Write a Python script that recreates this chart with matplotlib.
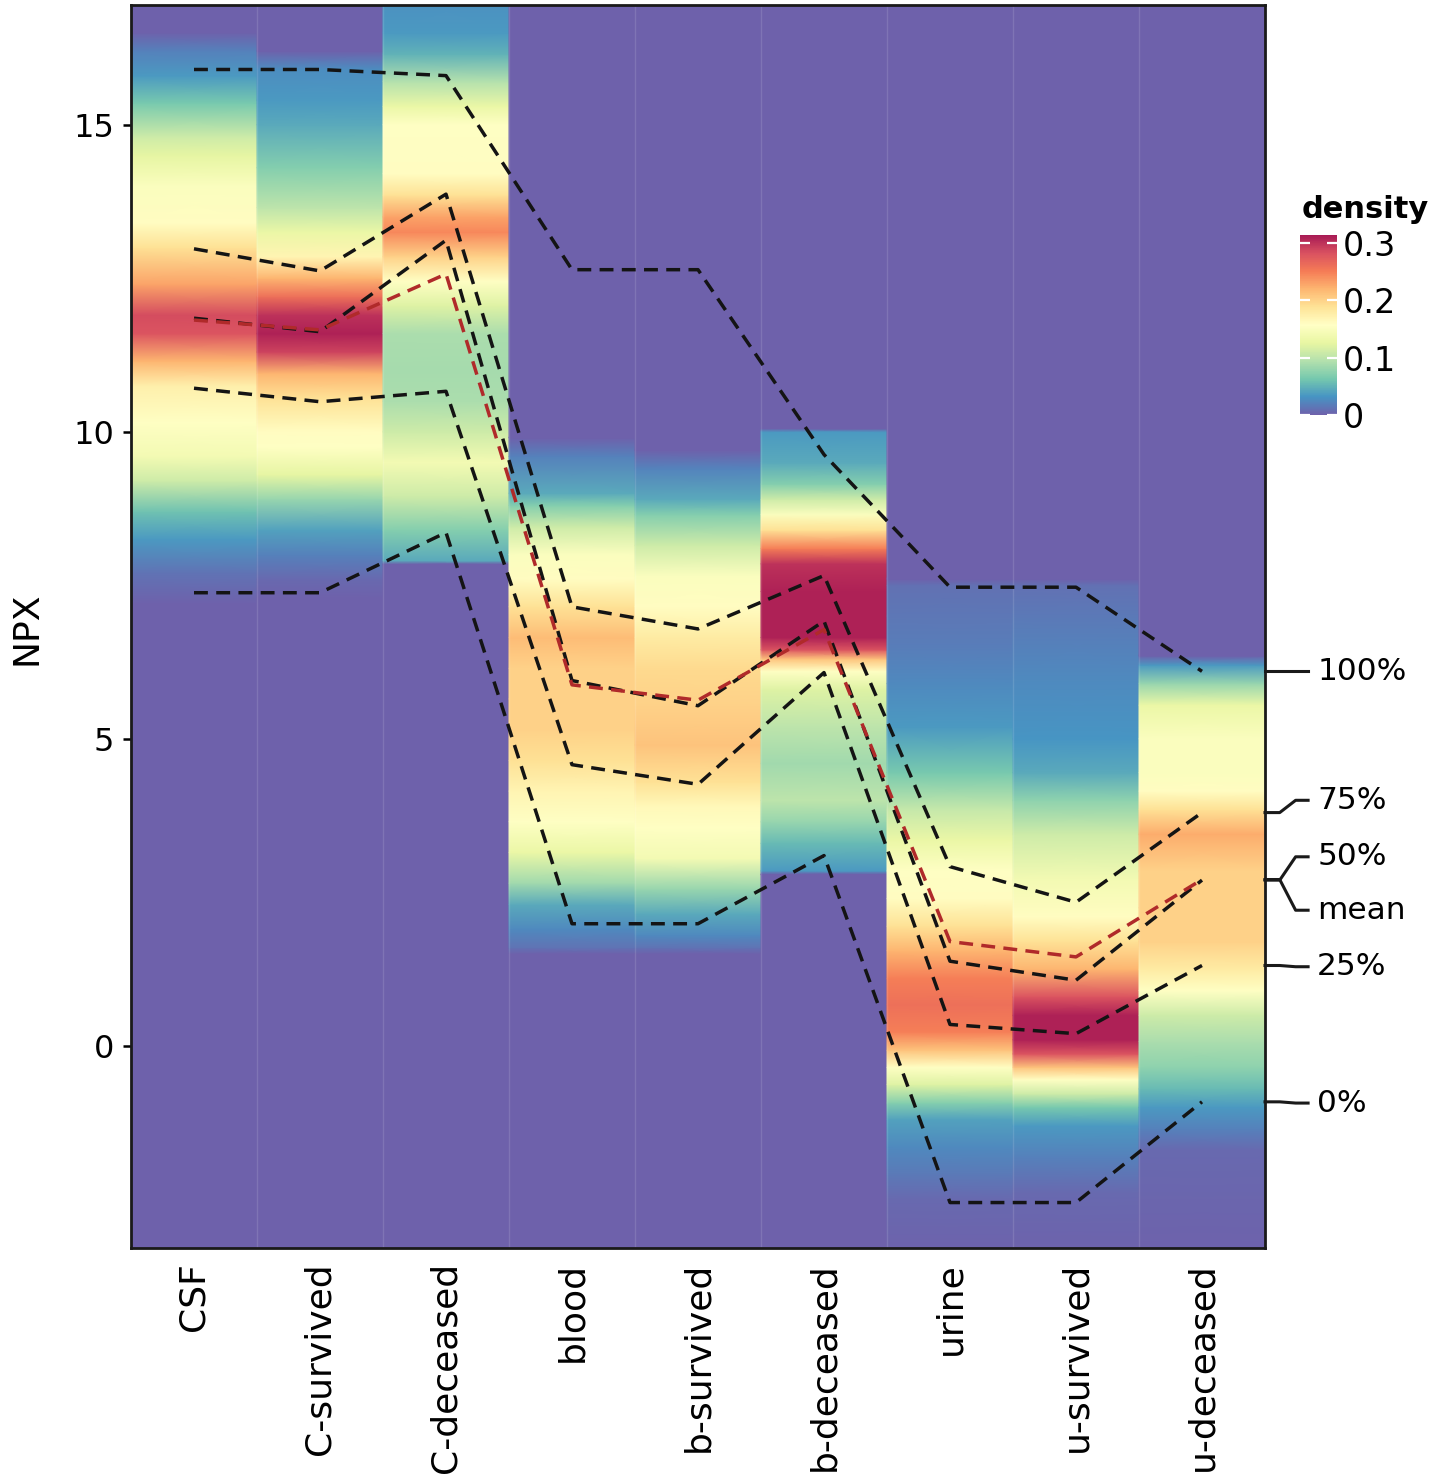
import numpy as np
import matplotlib
matplotlib.use("Agg")
import matplotlib.pyplot as plt
import matplotlib.transforms as mtransforms
from matplotlib.colors import Normalize, ListedColormap

# ---------------- data ----------------
categories = ["CSF", "C-survived", "C-deceased", "blood", "b-survived",
              "b-deceased", "urine", "u-survived", "u-deceased"]

# density profiles (NPX sample positions and density)
csf_npx = [-3.5, 7.2, 7.7, 8.25, 8.7, 9.2, 9.6, 10.15, 10.75, 11.15, 11.6, 11.9,
           12.4, 13.0, 13.4, 14.0, 14.5, 14.8, 15.35, 15.8, 16.2, 16.5, 17.2]
csf_den = [0, 0, 0.012, 0.035, 0.06, 0.11, 0.14, 0.155, 0.175, 0.22, 0.28, 0.285,
           0.23, 0.19, 0.16, 0.15, 0.125, 0.11, 0.065, 0.035, 0.02, 0, 0]

csurv_npx = [-3.5, 7.3, 7.6, 8.0, 8.4, 8.9, 9.3, 9.75, 10.0, 10.55, 10.95, 11.3,
             11.6, 11.9, 12.2, 12.5, 12.85, 13.25, 13.65, 14.3, 15.0, 15.4, 15.9, 16.2, 17.2]
csurv_den = [0, 0, 0.006, 0.02, 0.04, 0.08, 0.125, 0.155, 0.16, 0.19, 0.22, 0.29,
             0.31, 0.30, 0.26, 0.22, 0.17, 0.13, 0.10, 0.07, 0.045, 0.035, 0.028, 0, 0]

cdec_npx = [-3.5, 7.85, 7.9, 8.4, 8.95, 9.5, 10.0, 10.5, 11.0, 11.6, 12.05, 12.45,
            12.85, 13.25, 13.5, 13.85, 14.2, 15.0, 15.3, 15.7, 16.15, 16.5, 17.2]
cdec_den = [0, 0, 0.045, 0.07, 0.11, 0.14, 0.11, 0.09, 0.088, 0.09, 0.12, 0.155,
            0.20, 0.245, 0.23, 0.19, 0.16, 0.155, 0.13, 0.095, 0.05, 0.035, 0.028]

blood_npx = [-3.5, 1.5, 1.6, 1.9, 2.3, 2.65, 3.15, 3.65, 4.15, 4.65, 5.15, 5.65,
             6.15, 6.65, 7.15, 7.6, 8.0, 8.45, 8.8, 9.0, 9.6, 9.9, 17.2]
blood_den = [0, 0, 0.012, 0.025, 0.045, 0.085, 0.13, 0.155, 0.17, 0.19, 0.20, 0.20,
             0.20, 0.215, 0.19, 0.16, 0.15, 0.11, 0.07, 0.045, 0.02, 0, 0]

bsurv_npx = [-3.5, 1.5, 1.6, 1.8, 2.15, 2.55, 3.05, 3.55, 3.9, 4.3, 4.9, 5.55,
             6.15, 6.65, 7.15, 7.65, 8.15, 8.65, 8.9, 9.4, 9.7, 17.2]
bsurv_den = [0, 0, 0.012, 0.025, 0.045, 0.08, 0.14, 0.155, 0.165, 0.19, 0.21, 0.20,
             0.195, 0.18, 0.16, 0.15, 0.11, 0.07, 0.045, 0.022, 0, 0]

bdec_npx = [-3.5, 2.8, 2.85, 3.3, 3.65, 4.0, 4.6, 5.2, 5.8, 6.1, 6.3, 6.45,
            6.65, 7.4, 7.85, 8.1, 8.4, 8.65, 8.9, 9.15, 9.5, 10.0, 10.05, 17.2]
bdec_den = [0, 0, 0.035, 0.055, 0.08, 0.10, 0.085, 0.10, 0.12, 0.155, 0.21, 0.28,
            0.31, 0.31, 0.30, 0.25, 0.19, 0.15, 0.11, 0.07, 0.045, 0.035, 0, 0]

urine_npx = [-3.5, -2.5, -2.1, -1.65, -1.2, -0.93, -0.63, -0.35, -0.07, 0.23, 0.67,
             1.1, 1.55, 1.95, 2.4, 2.85, 3.35, 3.85, 4.45, 5.2, 5.9, 6.5, 7.0, 7.5, 7.6, 17.2]
urine_den = [0, 0.005, 0.015, 0.025, 0.04, 0.07, 0.12, 0.155, 0.21, 0.25, 0.26,
             0.25, 0.22, 0.19, 0.16, 0.155, 0.13, 0.105, 0.065, 0.035, 0.025, 0.018, 0.014, 0.01, 0, 0]

usurv_npx = [-3.5, -2.4, -1.8, -1.3, -1.0, -0.78, -0.55, -0.35, -0.13, 0.1, 0.5,
             0.8, 1.25, 1.7, 2.1, 2.7, 3.45, 4.0, 4.45, 5.0, 6.0, 7.0, 7.5, 7.6, 17.2]
usurv_den = [0, 0.005, 0.02, 0.035, 0.065, 0.11, 0.155, 0.21, 0.28, 0.31, 0.31,
             0.28, 0.22, 0.19, 0.16, 0.14, 0.11, 0.075, 0.045, 0.032, 0.025, 0.015, 0.01, 0, 0]

udec_npx = [-3.5, -1.7, -1.35, -1.0, -0.7, -0.35, 0.07, 0.5, 0.9, 1.25, 1.7, 2.25,
            2.85, 3.45, 3.85, 4.15, 4.45, 5.0, 5.55, 5.9, 6.2, 6.35, 17.2]
udec_den = [0, 0.005, 0.02, 0.035, 0.055, 0.075, 0.09, 0.11, 0.155, 0.18, 0.20, 0.20,
            0.20, 0.225, 0.19, 0.16, 0.15, 0.15, 0.13, 0.08, 0.035, 0, 0]

# quantile summaries per category
q100 = [15.9, 15.9, 15.8, 12.64, 12.64, 9.63, 7.47, 7.47, 6.1]
q75 = [12.98, 12.62, 13.87, 7.15, 6.79, 7.66, 2.92, 2.34, 3.8]
q50 = [11.85, 11.63, 13.12, 5.95, 5.54, 6.92, 1.38, 1.07, 2.7]
qmean = [11.82, 11.66, 12.57, 5.88, 5.63, 6.78, 1.70, 1.45, 2.71]
q25 = [10.71, 10.49, 10.66, 4.58, 4.26, 6.08, 0.35, 0.20, 1.31]
q0 = [7.38, 7.38, 8.36, 1.99, 1.99, 3.10, -2.55, -2.55, -0.91]

quant_labels = ["100%", "75%", "50%", "mean", "25%", "0%"]
label_npx = [6.1, 4.0, 3.08, 2.21, 1.29, -0.93]

# ---------------- figure ----------------
W, H = 1437, 1484
fig = plt.figure(figsize=(W / 100, H / 100), dpi=100)
ax = fig.add_axes([131 / W, 1 - 1248 / H, (1265 - 131) / W, (1248 - 5) / H])

base = plt.get_cmap("Spectral_r")(np.linspace(0, 1, 256))
base[:, :3] = base[:, :3] * 0.9 + 0.1
cmap = ListedColormap(base)
norm = Normalize(0, 0.314)

profiles = [(csf_npx, csf_den), (csurv_npx, csurv_den), (cdec_npx, cdec_den),
            (blood_npx, blood_den), (bsurv_npx, bsurv_den), (bdec_npx, bdec_den),
            (urine_npx, urine_den), (usurv_npx, usurv_den), (udec_npx, udec_den)]

mesh = None
for i, (ys, ds) in enumerate(profiles):
    ys = np.asarray(ys, float)
    ds = np.asarray(ds, float)
    X = np.column_stack([np.full_like(ys, i - 0.5), np.full_like(ys, i + 0.5)])
    Y = np.column_stack([ys, ys])
    C = np.column_stack([ds, ds])
    mesh = ax.pcolormesh(X, Y, C, shading="gouraud", cmap=cmap, norm=norm)

for b in np.arange(0.5, len(categories) - 0.5):
    ax.axvline(b, color="white", alpha=0.12, lw=1)

xs = np.arange(len(categories))
dash = (0, (4.0, 2.4))
for q in [q0, q25, q50, q75, q100]:
    ax.plot(xs, q, ls=dash, color="#141414", lw=2.5, zorder=3)
ax.plot(xs, qmean, ls=dash, color="#b02a2a", lw=2.5, zorder=3)

ax.set_xlim(-0.5, len(categories) - 0.5)
ax.set_ylim(-3.29, 16.95)
ax.set_yticks([0, 5, 10, 15])
ax.set_yticklabels(["0", "5", "10", "15"])
ax.set_xticks(xs)
ax.set_xticklabels(categories, rotation=90, fontsize=26)
ax.tick_params(axis="x", length=0, pad=10)
ax.tick_params(axis="y", length=6, width=1.8, labelsize=23, pad=6)
for s in ax.spines.values():
    s.set_linewidth(2.0)
    s.set_color("#1a1a1a")

fig.text(27 / W, 1 - 628 / H, "NPX", rotation=90, ha="center", va="center", fontsize=26)

# right-hand quantile labels for the last category
trans = mtransforms.blended_transform_factory(ax.transAxes, ax.transData)
last_vals = [q100[-1], q75[-1], q50[-1], qmean[-1], q25[-1], q0[-1]]
for lab, v, ly in zip(quant_labels, last_vals, label_npx):
    ax.plot([1.0, 1.013, 1.027, 1.038], [v, v, ly, ly], transform=trans,
            clip_on=False, color="#1a1a1a", lw=2.2)
    ax.text(1.046, ly, lab, transform=trans, ha="left", va="center",
            fontsize=22.5, clip_on=False)

# colourbar
cax = fig.add_axes([1300 / W, 1 - 415 / H, 37 / W, 180 / H])
cb = fig.colorbar(mesh, cax=cax)
cb.outline.set_visible(False)
cb.set_ticks([0, 0.1, 0.2, 0.3])
cb.set_ticklabels(["0", "0.1", "0.2", "0.3"])
cb.minorticks_off()
cax.tick_params(which="major", direction="in", color="white", labelcolor="black",
                length=7, width=1.6, left=True, right=True, labelleft=False,
                labelright=True, labelsize=24, pad=4)
fig.text(1302 / W, 1 - 210 / H, "density", fontweight="bold", fontsize=22,
         ha="left", va="center")

fig.savefig("out.png", dpi=100)
